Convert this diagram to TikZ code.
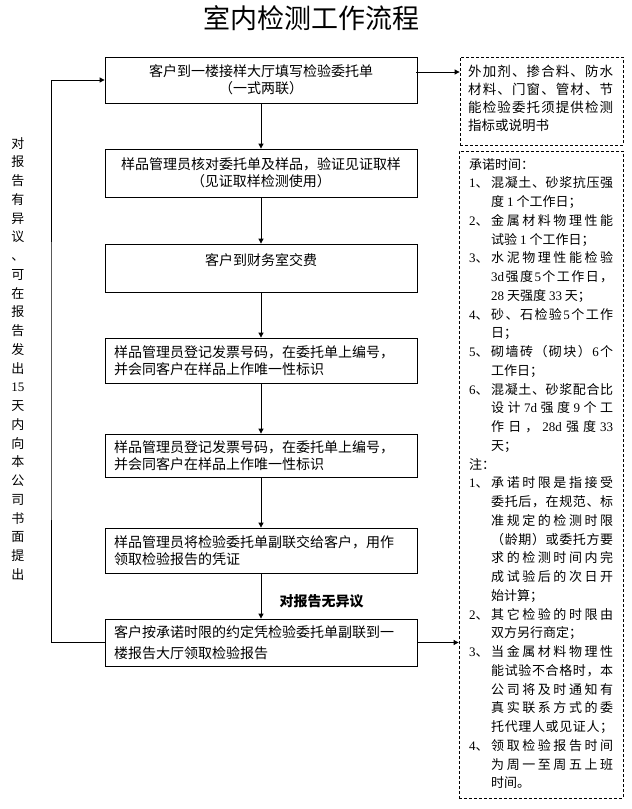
\documentclass[tikz,border=0pt]{standalone}
\usepackage{fontspec}
\setmainfont{Liberation Serif}
\newfontfamily\cjk{Noto Sans CJK SC}
\usetikzlibrary{arrows.meta,calc}
\newcommand\latn[1]{{\rmfamily #1}}
\makeatletter
\newcommand\jl[2][122pt]{\makebox[#1][s]{\@tfor\jx:=#2\do{\jx\hfil}\unskip}}
\makeatother
\newcommand\pre[1]{\makebox[22pt][l]{\latn{#1}、}}
\newcommand\ind{\hspace*{22pt}}
\tikzset{
  flowbox/.style={draw, line width=0.8pt, minimum width=312pt, inner sep=0pt,
    font=\cjk\fontsize{14}{17}\selectfont, align=center},
  leftbox/.style={flowbox, text width=294pt, align=left},
  notebox/.style={draw, line width=0.8pt, dash pattern=on 3pt off 2pt, inner sep=0pt},
  notetext/.style={inner sep=0pt, align=left, font=\cjk\fontsize{13}{18.75}\selectfont},
  arr/.style={line width=0.8pt, -{Triangle[length=5pt,width=5pt]}},
  line/.style={line width=0.8pt}
}
\begin{document}
\begin{tikzpicture}[x=1pt,y=-1pt]
\useasboundingbox (0,0) rectangle (632,809);
\fill[white] (0,0) rectangle (632,809);

\node[font=\cjk\fontsize{27}{30}\selectfont] (title) at (311,18) {室内检测工作流程};

% main boxes
\node[flowbox, minimum height=46pt] (b1) at (261,80) {客户到一楼接样大厅填写检验委托单\\（一式两联）};
\node[flowbox, minimum height=48pt] (b2) at (261,173) {样品管理员核对委托单及样品，验证见证取样\\（见证取样检测使用）};
\node[flowbox, minimum height=48pt] (b3) at (261,268) {客户到财务室交费\\\mbox{}};
\node[leftbox, minimum height=45pt] (b4) at (261,360.5) {样品管理员登记发票号码，在委托单上编号，\\并会同客户在样品上作唯一性标识};
\node[leftbox, minimum height=43pt] (b5) at (261,455.5) {样品管理员登记发票号码，在委托单上编号，\\并会同客户在样品上作唯一性标识};
\node[leftbox, minimum height=45pt] (b6) at (261,550.5) {样品管理员将检验委托单副联交给客户，用作\\领取检验报告的凭证};
\node[leftbox, minimum height=47pt] (b7) at (261,642.5) {客户按承诺时限的约定凭检验委托单副联到一\\[4pt]楼报告大厅领取检验报告};

\draw[arr] (b1) -- (b2);
\draw[arr] (b2) -- (b3);
\draw[arr] (b3) -- (b4);
\draw[arr] (b4) -- (b5);
\draw[arr] (b5) -- (b6);
\draw[arr] (b6) -- (b7);
\node[font=\cjk\fontsize{14}{17}\selectfont\bfseries, anchor=west] (ok) at (276,601) {对报告无异议};

% feedback loop
\coordinate (fb) at (51,400);
\draw[arr] (b7.west) -| (fb) |- (b1.west);
\node[notetext, align=center, anchor=north] (side) at (18,137) {对\\报\\告\\有\\异\\议\\、\\可\\在\\报\\告\\发\\出\\\latn{15}\\天\\内\\向\\本\\公\\司\\书\\面\\提\\出};

% note boxes
\node[notebox, minimum width=163pt, minimum height=88pt] (n1) at (541.5,101) {};
\node[notetext, font=\cjk\fontsize{13.5}{18}\selectfont, anchor=north west] (n1t) at (468,65) {\jl[145pt]{外加剂、掺合料、防水}\\\jl[145pt]{材料、门窗、管材、节}\\\jl[145pt]{能检验委托须提供检测}\\指标或说明书};
\coordinate (a1) at (416,72);
\draw[arr] (a1) -- (a1 -| n1.west);

\node[notebox, minimum width=164pt, minimum height=647pt] (n2) at (541,474.5) {};
\node[notetext, anchor=north west] (n2t) at (469,158) {%
承诺时间：\\
\pre{1}\jl{混凝土、砂浆抗压强}\\
\ind 度 \latn{1} 个工作日；\\
\pre{2}\jl{金属材料物理性能}\\
\ind 试验 \latn{1} 个工作日；\\
\pre{3}\jl{水泥物理性能检验}\\
\ind\jl{{\latn{3d}}强度{\latn{5}}个工作日，}\\
\ind\latn{28} 天强度 \latn{33} 天；\\
\pre{4}\jl{砂、石检验{\latn{5}}个工作}\\
\ind 日；\\
\pre{5}\jl{砌墙砖（砌块）{\latn{6}}个}\\
\ind 工作日；\\
\pre{6}\jl{混凝土、砂浆配合比}\\
\ind\jl{设计{\latn{7d}}强度{\latn{9}}个工}\\
\ind\jl{作日，{\latn{28d}}强度{\latn{33}}}\\
\ind 天；\\
注：\\
\pre{1}\jl{承诺时限是指接受}\\
\ind\jl{委托后，在规范、标}\\
\ind\jl{准规定的检测时限}\\
\ind\jl{（龄期）或委托方要}\\
\ind\jl{求的检测时间内完}\\
\ind\jl{成试验后的次日开}\\
\ind 始计算；\\
\pre{2}\jl{其它检验的时限由}\\
\ind 双方另行商定；\\
\pre{3}\jl{当金属材料物理性}\\
\ind\jl{能试验不合格时，本}\\
\ind\jl{公司将及时通知有}\\
\ind\jl{真实联系方式的委}\\
\ind\jl{托代理人或见证人；}\\
\pre{4}\jl{领取检验报告时间}\\
\ind\jl{为周一至周五上班}\\
\ind 时间。};
\draw[arr] (b7.east) -- (b7.east -| n2.west);
\end{tikzpicture}
\end{document}
